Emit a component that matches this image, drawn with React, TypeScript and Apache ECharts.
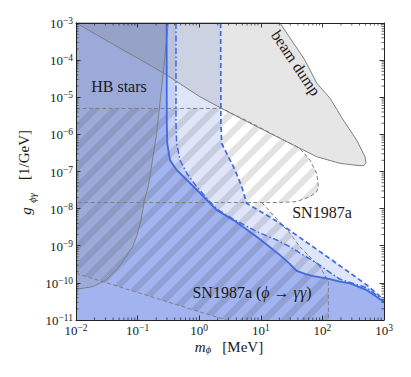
import React, { useEffect, useRef } from "react";
import * as echarts from "echarts";

// ---- axes ----
const X_MIN = 1e-2;
const X_MAX = 1e3;
const Y_MIN = 1e-11;
const Y_MAX = 1e-3;
const xDecades = [-2, -1, 0, 1, 2];
const yDecades = [-11, -10, -9, -8, -7, -6, -5, -4];
const minorSteps = [2, 3, 4, 5, 6, 7, 8, 9];

// ---- curves [m_phi (MeV), g (1/GeV)] ----
const solidLine: [number, number][] = [
  [0.296, 1e-3], [0.298, 2e-6], [0.303, 5.7e-7], [0.336, 2.0e-7], [0.43, 1.1e-7],
  [0.63, 5.9e-8], [1.03, 2.6e-8], [1.92, 9.2e-9], [3.58, 4.9e-9], [8.6, 1.75e-9],
  [20.5, 5.6e-10], [29.8, 3.2e-10], [38.3, 2.1e-10], [52, 1.75e-10], [71, 1.53e-10],
  [117, 1.33e-10], [193, 1.08e-10], [281, 9.7e-11], [524, 6.4e-11], [1000, 3.05e-11],
];
const dashDotLine: [number, number][] = [
  [0.42, 1e-3], [0.42, 2e-6], [0.43, 5.7e-7], [0.49, 2.0e-7], [0.63, 8.9e-8],
  [0.91, 3.9e-8], [1.41, 1.7e-8], [1.95, 9.6e-9], [3.58, 5.2e-9], [8.6, 2.4e-9],
  [18.1, 1.43e-9], [29.8, 9.4e-10], [49, 5.6e-10], [81, 3.4e-10], [117, 2.2e-10],
  [193, 1.25e-10], [524, 7.4e-11], [1000, 3.3e-11],
];
const dashedLine: [number, number][] = [
  [2.23, 1e-3], [2.25, 2e-6], [2.32, 5.7e-7], [2.79, 3.1e-7], [3.81, 1.1e-7],
  [4.9, 3.9e-8], [5.9, 1.39e-8], [18.1, 4.6e-9], [49, 1.43e-9], [150, 3.9e-10],
  [524, 8.8e-11], [1000, 3.5e-11],
];
const hbCurve: [number, number][] = [
  [0.01, 6.7e-11], [0.0187, 7.9e-11], [0.0307, 1.19e-10], [0.05, 2.7e-10],
  [0.083, 9.4e-10], [0.098, 1.95e-9], [0.1135, 4.9e-9], [0.129, 1.7e-8],
  [0.149, 3.9e-8], [0.204, 1.07e-6], [0.261, 4.6e-5], [0.315, 1e-3],
];
const beamDump: [number, number][] = [
  [0.01, 1e-3], [20.5, 1e-3], [52, 1e-4], [81, 2.4e-5], [133, 9.4e-6],
  [218, 2.44e-6], [360, 7.0e-7], [492, 2.5e-7], [510, 1.66e-7], [470, 1.45e-7],
  [407, 1.43e-7], [193, 1.66e-7], [81, 2.5e-7], [29.8, 5.75e-7], [6.7, 2.0e-6],
  [2.32, 5.0e-6], [1.03, 1.03e-5], [0.258, 4.6e-5], [0.01, 1e-3],
];
const snUpper: [number, number][] = [
  [0.01, 5.0e-6], [2.32, 5.0e-6], [6.7, 2.1e-6], [29.8, 5.75e-7], [43, 4.2e-7],
  [63, 2.0e-7], [81, 8.9e-8], [86, 3.9e-8], [81, 2.86e-8], [63, 2.1e-8],
  [38, 1.54e-8], [18.1, 1.46e-8], [0.01, 1.46e-8],
];
const snLowerRight: [number, number][] = [
  [10.35, 1.46e-8], [29.8, 2.16e-9], [43, 9.4e-10], [91, 2.7e-10], [125, 1.1e-10], [125, 1e-11],
];
const snLowerLeft: [number, number][] = [
  [0.01, 1.81e-10], [1.24, 1.5e-11], [2.8, 1e-11],
];

const FONT = "Liberation Serif, DejaVu Serif, serif";
const TXT = "#1a1a1a";
const BLUE = "#4169e1";
const GRAY = "#7f7f7f";

function makeHatch(): HTMLCanvasElement {
  const P = 20;
  const c = document.createElement("canvas");
  c.width = P;
  c.height = P;
  const ctx = c.getContext("2d")!;
  const img = ctx.createImageData(P, P);
  const S = 4;
  for (let y = 0; y < P; y++) {
    for (let x = 0; x < P; x++) {
      let cov = 0;
      for (let sy = 0; sy < S; sy++) {
        for (let sx = 0; sx < S; sx++) {
          const t = (x + (sx + 0.5) / S + y + (sy + 0.5) / S) % P;
          if (t < 9) cov++;
        }
      }
      const a = (cov / (S * S)) * 0.11;
      const i = (y * P + x) * 4;
      img.data[i] = 0;
      img.data[i + 1] = 0;
      img.data[i + 2] = 0;
      img.data[i + 3] = Math.round(a * 255);
    }
  }
  ctx.putImageData(img, 0, 0);
  return c;
}

function shapeSeries(pts: [number, number][], style: any, z: number, closed = true) {
  const mid = pts[Math.floor(pts.length / 2)];
  return {
    type: "custom",
    coordinateSystem: "cartesian2d",
    silent: true,
    z,
    data: [[mid[0], mid[1]]],
    renderItem: (_p: any, api: any) => ({
      type: closed ? "polygon" : "polyline",
      shape: { points: pts.map((p) => api.coord(p)) },
      style,
    }),
  };
}

function regionUnder(line: [number, number][]): [number, number][] {
  return [...line, [X_MAX, Y_MIN], [X_MIN, Y_MIN], [X_MIN, Y_MAX]];
}

function buildOption() {
  const hatch = makeHatch();
  const hatchFill = { image: hatch, repeat: "repeat", imageWidth: 20, imageHeight: 20 };
  const supRich = {
    b: { fontFamily: FONT, fontSize: 13, lineHeight: 14, verticalAlign: "bottom", color: TXT },
    s: { fontFamily: FONT, fontSize: 9.5, lineHeight: 9, padding: [0, 0, 7, 0], verticalAlign: "top", color: TXT },
  };
  const fmt = (v: number) => {
    const e = Math.round(Math.log10(v));
    return `{b|10}{s|${e < 0 ? "\u2212" + -e : e}}`;
  };
  const axisCommon = {
    type: "log",
    logBase: 10,
    z: 10,
    splitLine: { show: false },
    axisLine: { show: true, onZero: false, lineStyle: { color: "#222", width: 1 } },
    axisTick: { show: true, inside: true, length: 4.5, lineStyle: { color: "#222", width: 0.9 } },
    minorTick: { show: false },
  };
  const xMinor: number[] = [];
  xDecades.forEach((d) => minorSteps.forEach((k) => xMinor.push(k * Math.pow(10, d))));
  const yMinor: number[] = [];
  yDecades.forEach((d) => minorSteps.forEach((k) => yMinor.push(k * Math.pow(10, d))));

  const tickSeries = {
    type: "custom",
    coordinateSystem: "cartesian2d",
    silent: true,
    z: 30,
    data: [[1, 1e-7]],
    renderItem: (_p: any, api: any) => {
      const children: any[] = [];
      const st = { stroke: "#222", lineWidth: 0.7 };
      const L = 2.5;
      xMinor.forEach((v) => {
        const b = api.coord([v, Y_MIN]);
        const t = api.coord([v, Y_MAX]);
        children.push({ type: "line", shape: { x1: b[0], y1: b[1], x2: b[0], y2: b[1] - L }, style: st });
        children.push({ type: "line", shape: { x1: t[0], y1: t[1], x2: t[0], y2: t[1] + L }, style: st });
      });
      yMinor.forEach((v) => {
        const l = api.coord([X_MIN, v]);
        const r = api.coord([X_MAX, v]);
        children.push({ type: "line", shape: { x1: l[0], y1: l[1], x2: l[0] + L, y2: l[1] }, style: st });
        children.push({ type: "line", shape: { x1: r[0], y1: r[1], x2: r[0] - L, y2: r[1] }, style: st });
      });
      return { type: "group", children };
    },
  };

  const blueFill = (a: number) => `rgba(65,105,225,${a})`;
  const snLower: [number, number][] = [
    ...snLowerLeft.slice().reverse(),
    [X_MIN, 1.46e-8],
    ...snLowerRight,
  ];
  const hbRegion: [number, number][] = [...hbCurve, [X_MIN, Y_MAX]];

  const series: any[] = [
    shapeSeries(regionUnder(dashedLine), { fill: blueFill(0.165) }, 2),
    shapeSeries(regionUnder(dashDotLine), { fill: blueFill(0.165) }, 3),
    shapeSeries(regionUnder(solidLine), { fill: blueFill(0.27) }, 4),
    shapeSeries(snUpper, { fill: hatchFill }, 5),
    shapeSeries(snLower, { fill: hatchFill }, 5),
    shapeSeries(hbRegion, { fill: "rgba(128,128,128,0.2)" }, 6),
    shapeSeries(beamDump, { fill: "rgba(128,128,128,0.2)" }, 6),
    shapeSeries(beamDump, { fill: "none", stroke: GRAY, lineWidth: 1 }, 7, false),
    shapeSeries(hbCurve, { fill: "none", stroke: GRAY, lineWidth: 1 }, 7, false),
    shapeSeries(snUpper, { fill: "none", stroke: GRAY, lineWidth: 1, lineDash: [4, 2.5] }, 7, false),
    shapeSeries(snLowerRight, { fill: "none", stroke: GRAY, lineWidth: 1, lineDash: [4, 2.5] }, 7, false),
    shapeSeries(snLowerLeft, { fill: "none", stroke: GRAY, lineWidth: 1, lineDash: [4, 2.5] }, 7, false),
    shapeSeries(dashedLine, { fill: "none", stroke: BLUE, lineWidth: 1.7, lineDash: [5, 3] }, 8, false),
    shapeSeries(dashDotLine, { fill: "none", stroke: BLUE, lineWidth: 1.5, lineDash: [6, 2.5, 1.5, 2.5] }, 8, false),
    shapeSeries(solidLine, { fill: "none", stroke: BLUE, lineWidth: 1.8 }, 9, false),
    tickSeries,
  ];

  const textStyle = (extra: any) => ({ fill: TXT, fontFamily: FONT, fontSize: 16, align: "center", verticalAlign: "middle", ...extra });

  return {
    animation: false,
    backgroundColor: "#ffffff",
    grid: { left: 76, right: 27, top: 23, bottom: 57 },
    xAxis: [
      { ...axisCommon, min: X_MIN, max: X_MAX, interval: 1, position: "bottom", axisLabel: { formatter: fmt, rich: supRich, margin: 3, interval: 0 } },
      { ...axisCommon, min: X_MIN, max: X_MAX, interval: 1, position: "top", axisLabel: { show: false } },
    ],
    yAxis: [
      { ...axisCommon, min: Y_MIN, max: Y_MAX, interval: 1, position: "left", axisLabel: { formatter: fmt, rich: supRich, margin: 3, interval: 0 } },
      { ...axisCommon, min: Y_MIN, max: Y_MAX, interval: 1, position: "right", axisLabel: { show: false } },
    ],
    series,
    graphic: [
      { type: "text", x: 119, y: 86, z: 50, style: textStyle({ text: "HB stars" }) },
      { type: "text", x: 296, y: 63, z: 50, rotation: (-56 * Math.PI) / 180, style: textStyle({ text: "beam dump" }) },
      { type: "text", x: 322, y: 212, z: 50, style: textStyle({ text: "SN1987a" }) },
      {
        type: "text", x: 252, y: 292, z: 50,
        style: textStyle({
          text: "SN1987a ({i|\u03d5} \u2192 {i|\u03b3\u03b3})",
          rich: { i: { fontFamily: FONT, fontSize: 16, fontStyle: "italic", fill: TXT } },
        }),
      },
      {
        type: "text", x: 229, y: 347, z: 50,
        style: textStyle({
          text: "{i|m}{sub|\u03d5}{n|   [MeV]}",
          rich: {
            i: { fontFamily: FONT, fontSize: 15, fontStyle: "italic", fill: TXT, lineHeight: 16, verticalAlign: "top" },
            sub: { fontFamily: FONT, fontSize: 10.5, fontStyle: "italic", fill: TXT, lineHeight: 10, padding: [8, 0, 0, 0], verticalAlign: "bottom" },
            n: { fontFamily: FONT, fontSize: 15, fill: TXT, lineHeight: 16, verticalAlign: "top" },
          },
        }),
      },
      // y axis title, split into plain rotated pieces
      { type: "text", x: 24, y: 155, z: 50, rotation: Math.PI / 2, style: textStyle({ text: "[1/GeV]", fontSize: 15 }) },
      { type: "text", x: 26, y: 211, z: 50, rotation: Math.PI / 2, style: textStyle({ text: "g", fontSize: 15, fontStyle: "italic" }) },
      { type: "text", x: 32, y: 198, z: 50, rotation: Math.PI / 2, style: textStyle({ text: "\u03d5\u03b3", fontSize: 10.5, fontStyle: "italic" }) },
    ],
  };
}

export default function App() {
  const ref = useRef<HTMLDivElement>(null);
  useEffect(() => {
    const chart = echarts.init(ref.current!, null, { renderer: "svg" });
    chart.setOption(buildOption() as any);
    return () => chart.dispose();
  }, []);
  return <div ref={ref} style={{ position: "fixed", left: 0, top: 0, width: 411, height: 377 }} />;
}
